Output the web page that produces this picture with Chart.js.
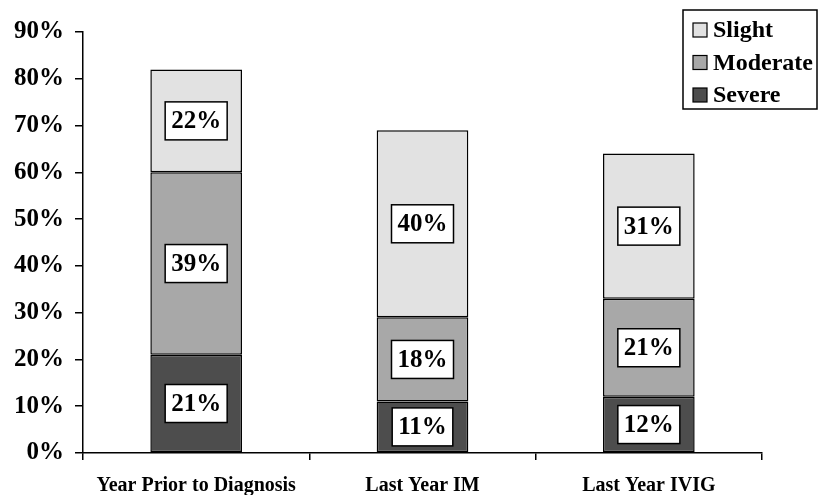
<!DOCTYPE html>
<html>
<head>
<meta charset="utf-8">
<script src="https://cdn.jsdelivr.net/npm/chart.js@4/dist/chart.umd.min.js"></script>
<style>
  html, body { margin: 0; padding: 0; background: #ffffff; }
  #wrap { width: 819px; height: 495px; position: relative; }
</style>
</head>
<body>
<div id="wrap"><canvas id="c" width="819" height="495"></canvas></div>
<script>
// Share of patients by infection severity in each period (percent)
const categories = ['Year Prior to Diagnosis', 'Last Year IM', 'Last Year IVIG'];
const severe   = [21, 11, 12];
const moderate = [39, 18, 21];
const slight   = [22, 40, 31];
const yTicks   = [0, 10, 20, 30, 40, 50, 60, 70, 80, 90];

const SERIF = '"Liberation Serif", "Times New Roman", Times, serif';

// White boxed value label in the middle of each bar segment
const segmentLabels = {
  id: 'segmentLabels',
  afterDatasetsDraw(chart) {
    const ctx = chart.ctx;
    ctx.save();
    ctx.font = 'bold 25px ' + SERIF;
    ctx.textAlign = 'center';
    ctx.textBaseline = 'middle';
    chart.data.datasets.forEach((ds, di) => {
      const meta = chart.getDatasetMeta(di);
      meta.data.forEach((bar, i) => {
        const text = ds.data[i] + '%';
        const w = ctx.measureText(text).width + 12;
        const h = 38;
        const cx = bar.x;
        const cy = (bar.y + bar.base) / 2;
        ctx.fillStyle = '#ffffff';
        ctx.fillRect(cx - w / 2, cy - h / 2, w, h);
        ctx.lineWidth = 1.5;
        ctx.strokeStyle = '#000000';
        ctx.strokeRect(cx - w / 2, cy - h / 2, w, h);
        ctx.fillStyle = '#000000';
        ctx.fillText(text, cx, cy + 1);
      });
    });
    ctx.restore();
  }
};

// Boxed legend in the top-right corner, top series listed first
const boxLegend = {
  id: 'boxLegend',
  afterDraw(chart) {
    const ctx = chart.ctx;
    const x0 = 683, y0 = 10, w = 134, h = 99;
    ctx.save();
    ctx.fillStyle = '#ffffff';
    ctx.fillRect(x0, y0, w, h);
    ctx.lineWidth = 1.5;
    ctx.strokeStyle = '#000000';
    ctx.strokeRect(x0, y0, w, h);
    ctx.font = 'bold 24px ' + SERIF;
    ctx.textAlign = 'left';
    ctx.textBaseline = 'middle';
    const items = chart.data.datasets.slice().reverse();
    items.forEach((ds, k) => {
      const cy = y0 + 20 + k * 32.5;
      ctx.fillStyle = ds.backgroundColor;
      ctx.fillRect(x0 + 10, cy - 7, 14, 14);
      ctx.lineWidth = 1.2;
      ctx.strokeRect(x0 + 10, cy - 7, 14, 14);
      ctx.fillStyle = '#000000';
      ctx.fillText(ds.label, x0 + 30, cy + 1);
    });
    ctx.restore();
  }
};

const chart = new Chart(document.getElementById('c'), {
  type: 'bar',
  data: {
    labels: categories,
    datasets: [
      { label: 'Severe',   data: severe,   backgroundColor: '#4d4d4d' },
      { label: 'Moderate', data: moderate, backgroundColor: '#a8a8a8' },
      { label: 'Slight',   data: slight,   backgroundColor: '#e2e2e2' }
    ].map(d => Object.assign(d, {
      borderColor: '#000000',
      borderWidth: 1.5,
      borderSkipped: false,
      categoryPercentage: 1.0,
      barPercentage: 0.405
    }))
  },
  options: {
    responsive: false,
    animation: false,
    devicePixelRatio: 1,
    layout: { padding: { left: 0, right: 57, top: 32, bottom: 0 } },
    plugins: {
      legend: { display: false },
      tooltip: { enabled: false }
    },
    scales: {
      x: {
        stacked: true,
        grid: { display: true, drawOnChartArea: false, drawTicks: true, tickLength: 7, color: '#000000', lineWidth: 1.5, offset: true },
        border: { display: true, color: '#000000', width: 1.5 },
        ticks: { color: '#000000', font: { family: SERIF, size: 20, weight: 'bold' }, padding: 14, maxRotation: 0 },
        afterFit(scale) { scale.height = 42; }
      },
      y: {
        stacked: true,
        min: 0,
        max: 90,
        afterBuildTicks(scale) { scale.ticks = yTicks.map(v => ({ value: v })); },
        grid: { display: true, drawOnChartArea: false, drawTicks: true, tickLength: 8, color: '#000000', lineWidth: 1.5 },
        border: { display: true, color: '#000000', width: 1.5 },
        ticks: { color: '#000000', font: { family: SERIF, size: 25, weight: 'bold' }, padding: 11, callback: v => v + '%' },
        afterFit(scale) { scale.width = 83; }
      }
    }
  },
  plugins: [segmentLabels, boxLegend]
});
</script>
</body>
</html>
